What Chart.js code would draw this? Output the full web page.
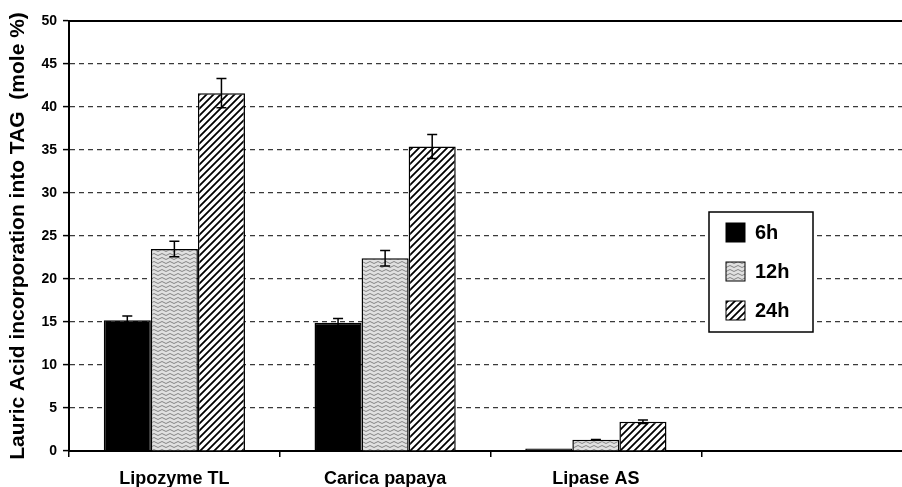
<!DOCTYPE html>
<html>
<head>
<meta charset="utf-8">
<script src="https://cdn.jsdelivr.net/npm/chart.js@4/dist/chart.umd.min.js"></script>
<style>
    html, body { margin: 0; padding: 0; background: #fff; overflow: hidden; }
    canvas { display: block; }
</style>
</head>
<body>
<canvas id="incorpChart" width="912" height="487"></canvas>
<script>
const categories = ["Lipozyme TL", "Carica papaya", "Lipase AS", ""];
const hours = ["6h", "12h", "24h"];

const values6h = [15.2, 14.9, 0.3, null];
const values12h = [23.5, 22.4, 1.3, null];
const values24h = [41.6, 35.4, 3.4, null];

const err6h = [0.5, 0.5, 0, null];
const err12h = [0.9, 0.9, 0.05, null];
const err24h = [1.7, 1.4, 0.2, null];

const FONT = "'Liberation Sans', Arial, sans-serif";

// little tiles for the fills
const wavyTile = () => {
    const c = document.createElement("canvas");
    c.width = 8; c.height = 4;
    const g = c.getContext("2d");
    g.fillStyle = "#e0e0e0";
    g.fillRect(0, 0, 8, 4);
    g.strokeStyle = "#858585";
    g.lineWidth = 1;
    g.beginPath();
    g.moveTo(0, 2.5); g.lineTo(2, 1.5); g.lineTo(4, 2.5); g.lineTo(6, 3.5); g.lineTo(8, 2.5);
    g.stroke();
    return g.createPattern(c, "repeat");
};

const hatchTile = () => {
    const s = 7;
    const c = document.createElement("canvas");
    c.width = s; c.height = s;
    const g = c.getContext("2d");
    g.fillStyle = "#fff";
    g.fillRect(0, 0, s, s);
    g.strokeStyle = "#000";
    g.lineWidth = 1.8;
    g.beginPath();
    g.moveTo(-1, 1); g.lineTo(1, -1);
    g.moveTo(0, s); g.lineTo(s, 0);
    g.moveTo(s - 1, s + 1); g.lineTo(s + 1, s - 1);
    g.stroke();
    return g.createPattern(c, "repeat");
};

const ctx = document.getElementById("incorpChart").getContext("2d");
const fills = ["#000", wavyTile(), hatchTile()];
const errors = [err6h, err12h, err24h];

const errorBars = {
    id: "errorBars",
    afterDatasetsDraw(chart) {
        const y = chart.scales.y;
        const c = chart.ctx;
        c.save();
        c.strokeStyle = "#000";
        c.lineWidth = 1.5;
        chart.data.datasets.forEach((ds, d) => {
            const meta = chart.getDatasetMeta(d);
            meta.data.forEach((bar, i) => {
                const v = ds.data[i];
                const e = errors[d][i];
                if (v == null || !e) return;
                const top = y.getPixelForValue(v + e);
                const bot = y.getPixelForValue(v - e);
                c.beginPath();
                c.moveTo(bar.x, top); c.lineTo(bar.x, bot);
                c.moveTo(bar.x - 5, top); c.lineTo(bar.x + 5, top);
                c.moveTo(bar.x - 5, bot); c.lineTo(bar.x + 5, bot);
                c.stroke();
            });
        });
        c.restore();
    }
};

const frameAndLegend = {
    id: "frameAndLegend",
    afterDraw(chart) {
        const c = chart.ctx;
        const a = chart.chartArea;
        c.save();
        // solid top line at 50
        c.strokeStyle = "#000";
        c.lineWidth = 2;
        c.beginPath();
        c.moveTo(a.left, a.top); c.lineTo(a.right, a.top);
        c.stroke();

        // legend box
        const bx = 709, by = 212, bw = 104, bh = 120;
        c.fillStyle = "#fff";
        c.fillRect(bx, by, bw, bh);
        c.lineWidth = 1.5;
        c.strokeRect(bx, by, bw, bh);
        c.font = "bold 20px " + FONT;
        c.textBaseline = "middle";
        chart.data.datasets.forEach((ds, i) => {
            const cy = 233 + i * 39;
            c.fillStyle = ds.backgroundColor;
            c.fillRect(726, cy - 10, 19, 19);
            c.lineWidth = 1;
            c.strokeRect(726, cy - 10, 19, 19);
            c.fillStyle = "#000";
            c.fillText(ds.label, 755, cy);
        });
        c.restore();
    }
};

new Chart(ctx, {
    type: "bar",
    data: {
        labels: categories,
        datasets: [
            { label: hours[0], data: values6h, backgroundColor: fills[0] },
            { label: hours[1], data: values12h, backgroundColor: fills[1] },
            { label: hours[2], data: values24h, backgroundColor: fills[2] },
        ].map(ds => ({
            ...ds,
            borderColor: "#000",
            borderWidth: 1.5,
            barPercentage: 1,
            categoryPercentage: 0.67,
        })),
    },
    options: {
        responsive: false,
        devicePixelRatio: 1,
        animation: false,
        layout: { padding: { top: 21, right: 0, bottom: 0, left: 0 } },
        plugins: {
            legend: { display: false },
            tooltip: { enabled: false },
        },
        scales: {
            x: {
                offset: true,
                grid: {
                    offset: true,
                    drawOnChartArea: false,
                    tickLength: 6,
                    color: "#000",
                    lineWidth: 1.5,
                },
                border: { color: "#000", width: 2 },
                ticks: {
                    color: "#000",
                    padding: 11,
                    font: { family: FONT, size: 18, weight: "bold" },
                },
                afterFit: (s) => { s.height = 36; },
            },
            y: {
                min: 0,
                max: 50,
                ticks: {
                    stepSize: 5,
                    color: "#000",
                    padding: 6,
                    font: { family: FONT, size: 14, weight: "bold" },
                },
                grid: {
                    color: "#3a3a3a",
                    lineWidth: 1.2,
                    tickLength: 6,
                    tickColor: "#000",
                    tickWidth: 1.5,
                },
                border: { color: "#000", width: 2, dash: [5, 4] },
                title: {
                    display: true,
                    text: "Lauric Acid incorporation into TAG  (mole %)",
                    color: "#000",
                    font: { family: FONT, size: 21, weight: "bold" },
                    padding: { top: 6, bottom: 0 },
                },
                afterFit: (s) => { s.width = 69; },
            },
        },
    },
    plugins: [errorBars, frameAndLegend],
});
</script>
</body>
</html>
